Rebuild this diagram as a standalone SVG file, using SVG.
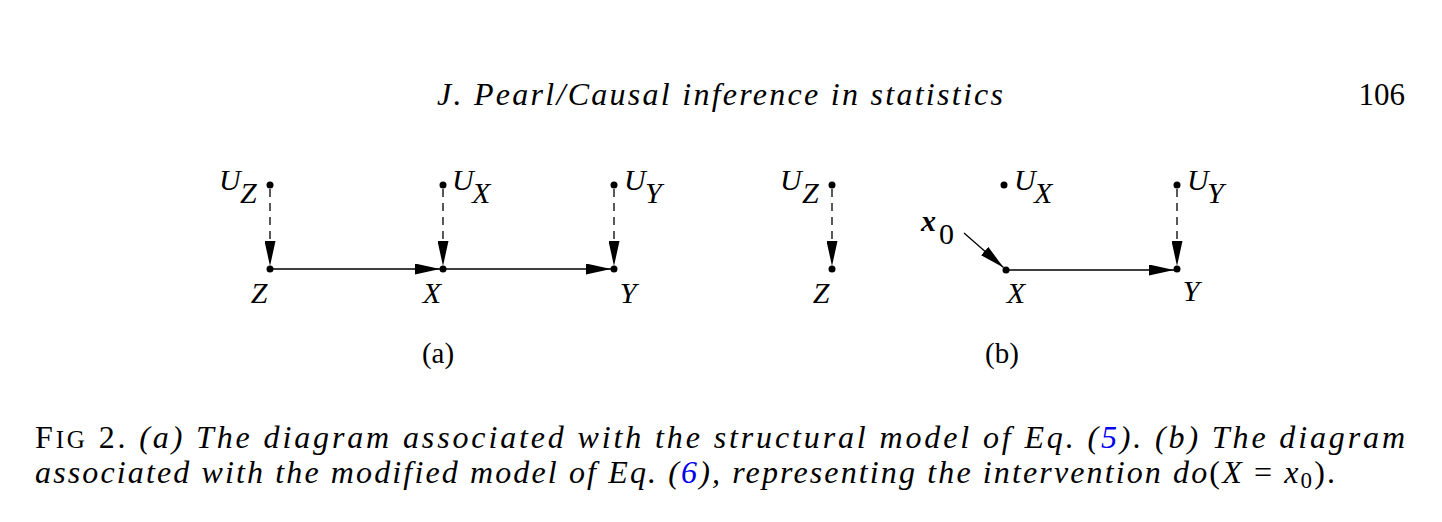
<svg xmlns="http://www.w3.org/2000/svg" width="1442" height="522" viewBox="0 0 1442 522">
<defs>
<marker id="ah" markerUnits="userSpaceOnUse" markerWidth="25" markerHeight="11" refX="25" refY="5.5" orient="auto" viewBox="0 0 25 11">
<path d="M0,0 L25,5.5 L0,11 z" fill="#000"/>
</marker>
</defs>
<style>
.lbl{font-family:"Liberation Serif","Times New Roman",serif;font-style:italic;font-size:30px;fill:#000}
.big{font-size:30px}
.up{font-style:normal}
.dot{fill:#000}
.solid{stroke:#000;stroke-width:1.3;fill:none}
.head{stroke:none;fill:none}
.dash{stroke:#000;stroke-width:1.3;fill:none;stroke-dasharray:8 6}
.cap{font-family:"Liberation Serif","Times New Roman",serif;font-style:italic;font-size:32px;fill:#000}
.rm{font-family:"Liberation Serif","Times New Roman",serif;font-size:31px;fill:#000}
.tr{font-family:"Liberation Serif","Times New Roman",serif;font-size:29px;fill:#000}
.n{font-style:normal}
.blue{fill:#0000ee}
</style>
<rect width="1442" height="522" fill="#fff"/>

<text class="cap" x="437" y="105" textLength="566" lengthAdjust="spacing">J. Pearl/Causal inference in statistics</text>
<text class="rm" x="1405" y="105" text-anchor="end">106</text>

<g id="connectors">
<path class="dash" d="M270,189 V242"/>
<path class="head" d="M270,241 V266" marker-end="url(#ah)"/>
<path class="dash" d="M443,189 V242"/>
<path class="head" d="M443,241 V266" marker-end="url(#ah)"/>
<path class="dash" d="M614,189 V242"/>
<path class="head" d="M614,241 V266" marker-end="url(#ah)"/>
<path class="solid" d="M270,269 H440" marker-end="url(#ah)"/>
<path class="solid" d="M443,269 H611" marker-end="url(#ah)"/>
<path class="dash" d="M832,189 V242"/>
<path class="head" d="M832,241 V266" marker-end="url(#ah)"/>
<path class="dash" d="M1177,189 V242"/>
<path class="head" d="M1177,241 V266" marker-end="url(#ah)"/>
<path class="solid" d="M1006,270 H1174" marker-end="url(#ah)"/>
<path class="solid" d="M964,233 L1003.5,267.5" marker-end="url(#ah)"/>
</g>

<g id="a-UZ"><circle class="dot" cx="270" cy="185" r="3.5"/><text class="lbl" x="219" y="190">U</text><text class="lbl" x="240" y="203">Z</text></g>
<g id="a-UX"><circle class="dot" cx="443" cy="185" r="3.5"/><text class="lbl" x="452" y="190">U</text><text class="lbl" x="472" y="203">X</text></g>
<g id="a-UY"><circle class="dot" cx="614" cy="185" r="3.5"/><text class="lbl" x="624" y="190">U</text><text class="lbl" x="645" y="203">Y</text></g>
<g id="a-Z"><circle class="dot" cx="270" cy="269" r="3.5"/><text class="lbl big" x="259" y="303" text-anchor="middle">Z</text></g>
<g id="a-X"><circle class="dot" cx="443" cy="269" r="3.5"/><text class="lbl big" x="432" y="303" text-anchor="middle">X</text></g>
<g id="a-Y"><circle class="dot" cx="614" cy="269" r="3.5"/><text class="lbl big" x="628" y="303" text-anchor="middle">Y</text></g>

<g id="b-UZ"><circle class="dot" cx="832" cy="185" r="3.5"/><text class="lbl" x="780" y="190">U</text><text class="lbl" x="802" y="203">Z</text></g>
<g id="b-UX"><circle class="dot" cx="1004" cy="185" r="3.5"/><text class="lbl" x="1014" y="190">U</text><text class="lbl" x="1034" y="203">X</text></g>
<g id="b-UY"><circle class="dot" cx="1177" cy="185" r="3.5"/><text class="lbl" x="1187" y="190">U</text><text class="lbl" x="1207" y="203">Y</text></g>
<g id="b-Z"><circle class="dot" cx="832" cy="269" r="3.5"/><text class="lbl big" x="821" y="303" text-anchor="middle">Z</text></g>
<g id="b-X"><circle class="dot" cx="1006" cy="270" r="3.5"/><text class="lbl big" x="1016" y="303" text-anchor="middle">X</text></g>
<g id="b-Y"><circle class="dot" cx="1177" cy="269" r="3.5"/><text class="lbl big" x="1191" y="301" text-anchor="middle">Y</text></g>
<g id="b-x0"><text class="lbl" x="921" y="231" font-weight="bold">x</text><text class="lbl up" x="939" y="244">0</text></g>

<text class="tr" x="438" y="363" text-anchor="middle">(a)</text>
<text class="tr" x="1002" y="363" text-anchor="middle">(b)</text>

<text class="cap" x="35" y="448" textLength="1370" lengthAdjust="spacing"><tspan class="n">F</tspan><tspan class="n" style="font-size:25px">IG</tspan><tspan class="n"> 2.</tspan> (a) The diagram associated with the structural model of Eq. (<tspan class="blue">5</tspan>). (b) The diagram</text>
<text class="cap" x="35" y="483" textLength="1300" lengthAdjust="spacing">associated with the modified model of Eq. (<tspan class="blue">6</tspan>), representing the intervention do<tspan class="n">(</tspan>X <tspan class="n">=</tspan> x<tspan class="n" style="font-size:23px" dy="5">0</tspan><tspan class="n" dy="-5">).</tspan></text>
</svg>
